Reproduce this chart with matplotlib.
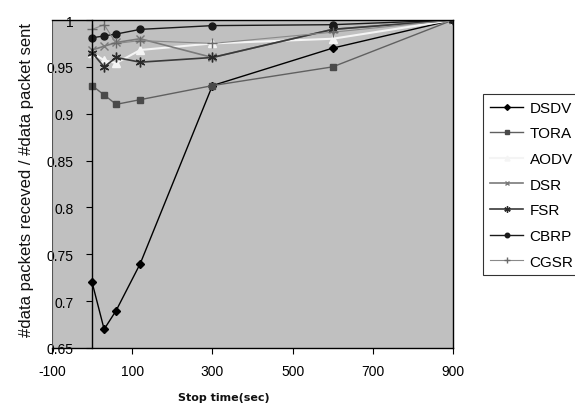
import matplotlib
matplotlib.use("Agg")
import matplotlib.pyplot as plt

stop_time = [0, 30, 60, 120, 300, 600, 900]
dsdv = [0.72, 0.67, 0.69, 0.74, 0.93, 0.97, 1.0]
tora = [0.93, 0.92, 0.91, 0.915, 0.93, 0.95, 1.0]
aodv = [0.965, 0.957, 0.954, 0.968, 0.975, 0.98, 1.0]
dsr = [0.968, 0.972, 0.976, 0.98, 0.96, 0.99, 1.0]
fsr = [0.965, 0.95, 0.96, 0.955, 0.96, 0.99, 1.0]
cbrp = [0.981, 0.983, 0.985, 0.99, 0.994, 0.995, 1.0]
cgsr = [0.99, 0.995, 0.975, 0.978, 0.975, 0.987, 1.0]

x_ticks = [-100, 100, 300, 500, 700, 900]
y_ticks = [0.65, 0.7, 0.75, 0.8, 0.85, 0.9, 0.95, 1.0]
y_ticklabels = ["0.65", "0.7", "0.75", "0.8", "0.85", "0.9", "0.95", "1"]

plt.rcParams['font.family'] = ['Liberation Sans', 'DejaVu Sans']
plt.rcParams['axes.unicode_minus'] = False

fig = plt.figure(figsize=(5.75, 4.06), dpi=100)
ax = fig.add_axes([52/575, 1-349/406, (453-52)/575, (349-21)/406])
ax.set_facecolor('#c0c0c0')

series = [
    ("DSDV", dsdv, dict(color='#000000', marker='D', ms=4.5, mfc='#000000', mec='#000000', lw=1.0)),
    ("TORA", tora, dict(color='#606060', marker='s', ms=4.5, mfc='#4a4a4a', mec='#4a4a4a', lw=1.0)),
    ("AODV", aodv, dict(color='#f4f4f4', marker='^', ms=5.5, mfc='#f4f4f4', mec='#f4f4f4', lw=1.5)),
    ("DSR", dsr, dict(color='#7a7a7a', marker='x', ms=5.5, mew=1.0, mec='#7a7a7a', lw=1.2)),
    ("FSR", fsr, dict(color='#3a3a3a', marker=(6, 2, 0), ms=7, mew=1.0, mec='#2a2a2a', lw=1.2)),
    ("CBRP", cbrp, dict(color='#1a1a1a', marker='o', ms=5, mfc='#1a1a1a', mec='#1a1a1a', lw=1.0)),
    ("CGSR", cgsr, dict(color='#8a8a8a', marker='+', ms=7, mew=1.0, mec='#6a6a6a', lw=0.8)),
]
for name, vals, kw in series:
    ax.plot(stop_time, vals, label=name, **kw)

ax.set_xlim(-100, 900)
ax.set_ylim(0.65, 1.0)
ax.set_xticks(x_ticks)
ax.set_yticks(y_ticks)
ax.set_yticklabels(y_ticklabels)
ax.spines['left'].set_position(('data', 0))
for s in ax.spines.values():
    s.set_linewidth(1.0)
    s.set_color('#000000')
ax.axvline(-100, color='#555555', lw=0.8)
ax.tick_params(axis='both', direction='out', length=4.5, width=0.8, labelsize=10, colors='#000000')
ax.tick_params(axis='y', pad=9)
ax.tick_params(axis='x', pad=7)

fig.text(27/575, 1-180/406, "#data packets receved / #data packet sent", rotation=90,
         ha='center', va='center', fontsize=12, color='#111111')
fig.text(224/575, 1-398/406, "Stop time(sec)", ha='center', va='center',
         fontsize=8, fontweight='bold', family='DejaVu Sans', color='#111111')

leg = fig.legend(loc='upper left', bbox_to_anchor=(483/575, 1-95/406), frameon=True,
                 fontsize=11, labelspacing=0.76, handlelength=2.2, handletextpad=0.4,
                 borderpad=0.45, fancybox=False, borderaxespad=0, markerscale=0.65)
leg.get_frame().set_edgecolor('#000000')
leg.get_frame().set_linewidth(0.8)

fig.savefig("out.png", dpi=100)
